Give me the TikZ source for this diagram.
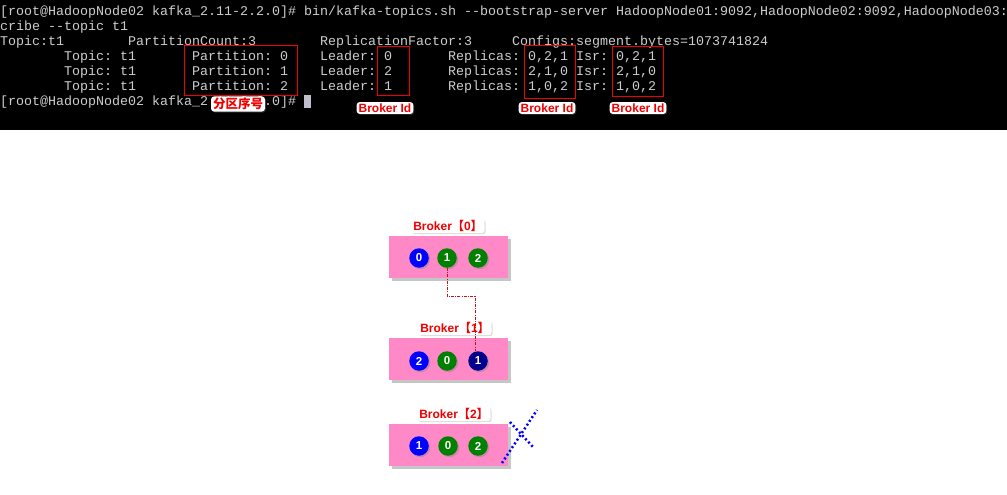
\documentclass[tikz,border=0pt]{standalone}
\usepackage{fontspec}
\setmainfont{Liberation Sans}
\newfontfamily\termfont{Liberation Mono}
\newfontfamily\cjk{Noto Sans CJK SC}
\usetikzlibrary{positioning}
\usetikzlibrary{shadows}

\begin{document}
\begin{tikzpicture}[x=1pt, y=-1pt,
		term/.style={anchor=base west, inner sep=0pt, text=TERM_GRAY, font=\termfont\frenchspacing\fontsize{13.33}{15}\selectfont},
		markbox/.style={draw=RED, line width=1pt},
		tag/.style={fill=WHITE, rounded corners=3pt, inner xsep=2pt, inner ysep=1.5pt, text=RED, font=\bfseries\fontsize{12}{12}\selectfont, drop shadow={shadow xshift=1pt, shadow yshift=-1pt, opacity=0.3}},
		broker/.style={fill=PINK, minimum width=119pt, minimum height=42pt, inner sep=0pt, drop shadow={shadow xshift=3pt, shadow yshift=-3pt, opacity=0.45}},
		part/.style={circle, minimum size=19.5pt, inner sep=0pt, text=WHITE, font=\bfseries\fontsize{11.5}{11.5}\selectfont, drop shadow={shadow xshift=1.5pt, shadow yshift=-1.5pt, opacity=0.4}},
		link/.style={draw=DARK_RED, line width=0.6pt, dash pattern=on 3pt off 1.2pt on 1pt off 1.2pt},
		cross/.style={draw=BLUE, line width=2.5pt, dash pattern=on 2pt off 2.5pt}
	]
	\definecolor{WHITE}{RGB}{255, 255, 255}
	\definecolor{BLACK}{RGB}{0, 0, 0}
	\definecolor{TERM_GRAY}{RGB}{205, 205, 205}
	\definecolor{CURSOR_GRAY}{RGB}{190, 190, 205}
	\definecolor{RED}{RGB}{240, 0, 0}
	\definecolor{DARK_RED}{RGB}{190, 20, 20}
	\definecolor{PINK}{RGB}{255, 136, 198}
	\definecolor{BLUE}{RGB}{0, 0, 255}
	\definecolor{NAVY}{RGB}{0, 0, 140}
	\definecolor{GREEN}{RGB}{0, 128, 0}
	\useasboundingbox (0,0) rectangle (1007,495);
	\fill[BLACK] (0,0) rectangle (1007,130);

	\node[term] (row0) at (0,16) {[root@HadoopNode02 kafka\_2.11-2.2.0]\# bin/kafka-topics.sh -{}-bootstrap-server HadoopNode01:9092,HadoopNode02:9092,HadoopNode03:};
	\node[term] (row1) at (0,31) {cribe -{}-topic t1};
	\node[term] (topic) at (0,46) {Topic:t1};
	\node[term] (count) at (128,46) {PartitionCount:3};
	\node[term] (factor) at (320,46) {ReplicationFactor:3};
	\node[term] (configs) at (512,46) {Configs:segment.bytes=1073741824};
	\node[term] (topicA) at (64,61) {Topic: t1};
	\node[term] (partA) at (192,61) {Partition: 0};
	\node[term] (leaderA) at (320,61) {Leader: 0};
	\node[term] (replA) at (448,61) {Replicas: 0,2,1 Isr: 0,2,1};
	\node[term] (topicB) at (64,76) {Topic: t1};
	\node[term] (partB) at (192,76) {Partition: 1};
	\node[term] (leaderB) at (320,76) {Leader: 2};
	\node[term] (replB) at (448,76) {Replicas: 2,1,0 Isr: 2,1,0};
	\node[term] (topicC) at (64,91) {Topic: t1};
	\node[term] (partC) at (192,91) {Partition: 2};
	\node[term] (leaderC) at (320,91) {Leader: 1};
	\node[term] (replC) at (448,91) {Replicas: 1,0,2 Isr: 1,0,2};
	\node[term] (row6) at (0,106) {[root@HadoopNode02 kafka\_2.11-2.2.0]\#};
	\fill[CURSOR_GRAY] (304,95) rectangle (311,108);

	\draw[markbox] (184,46) rectangle (297,95);
	\draw[markbox] (377,47) rectangle (409,95);
	\draw[markbox] (524,46) rectangle (575,98);
	\draw[markbox] (612,47) rectangle (663,96);

	\node[tag, font=\cjk\bfseries\fontsize{12.5}{12.5}\selectfont] (partno) at (238,104) {分区序号};
	\node[tag] (idLeader) at (385,108) {Broker Id};
	\node[tag] (idReplicas) at (547,108) {Broker Id};
	\node[tag] (idIsr) at (638,108) {Broker Id};

	\node[broker] (broker0) at (448.5,257) {};
	\node[broker] (broker1) at (448.5,358.5) {};
	\node[broker] (broker2) at (448.5,445) {};

	\node[tag] (name0) at (448,226) {Broker{\cjk 【}0{\cjk 】}};
	\node[tag] (name1) at (455,328) {Broker{\cjk 【}1{\cjk 】}};
	\node[tag] (name2) at (454,414) {Broker{\cjk 【}2{\cjk 】}};

	\node[part, fill=BLUE] (b0p0) at (419,258) {0};
	\node[part, fill=GREEN] (b0p1) at (447,258) {1};
	\node[part, fill=GREEN] (b0p2) at (478,258) {2};

	\node[part, fill=BLUE] (b1p2) at (419,361) {2};
	\node[part, fill=GREEN] (b1p0) at (447,361) {0};
	\node[part, fill=NAVY] (b1p1) at (478,361) {1};

	\node[part, fill=BLUE] (b2p1) at (419,446) {1};
	\node[part, fill=GREEN] (b2p0) at (448,446) {0};
	\node[part, fill=GREEN] (b2p2) at (478,446) {2};

	\draw[link] (b0p1.south) -- ++(0,28) -| ([xshift=-3pt]b1p1.north);

	\coordinate (crossA) at (502,463);
	\coordinate (crossB) at (537,410);
	\coordinate (crossC) at (510,422);
	\coordinate (crossD) at (533,447);
	\draw[cross] (crossA) -- (crossB);
	\draw[cross] (crossC) -- (crossD);
\end{tikzpicture}
\end{document}
